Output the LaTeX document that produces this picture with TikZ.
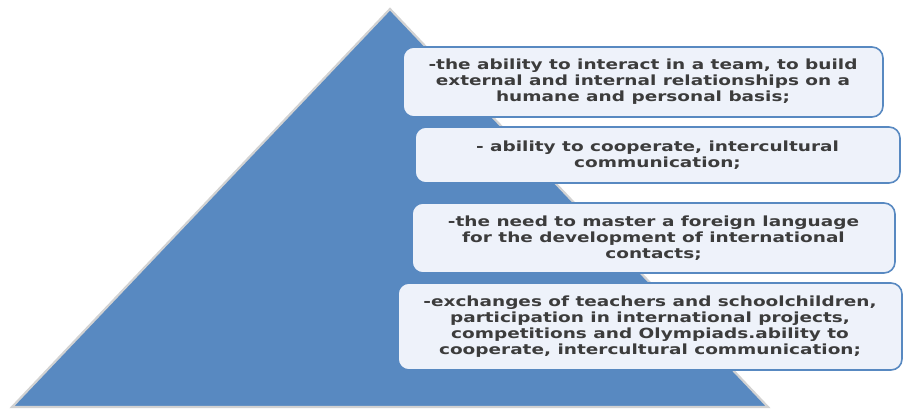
\documentclass[tikz,border=0pt]{standalone}
\usepackage{fontspec}
\setmainfont{DejaVu Sans}
\newfontfamily\boxfont[FakeStretch=1.32]{DejaVu Sans}
\definecolor{pyrblue}{RGB}{88,137,193}
\definecolor{boxfill}{RGB}{238,242,250}
\definecolor{txtgray}{RGB}{60,60,60}

\begin{document}
\begin{tikzpicture}[x=1pt, y=-1pt,
    item/.style={draw=pyrblue, line width=1.6pt, fill=boxfill, rounded corners=11pt,
        align=center, text=txtgray, inner sep=0pt,
        font=\boxfont\fontsize{14}{16}\selectfont\bfseries}]
    \useasboundingbox (0,0) rectangle (913,410);
    % the pyramid
    \coordinate (top) at (390,9);
    \coordinate (bl) at (12,407);
    \coordinate (br) at (768,407);
    \draw[gray!35, line width=2.2pt, fill=pyrblue] (top) -- (bl) -- (br) -- cycle;
    % the four levels
    \node (lvla) [item, minimum width=480pt, minimum height=70pt] at (643,82)
        {-the ability to interact in a team, to build\\external and internal relationships on a\\humane and personal basis;};
    \node (lvlb) [item, minimum width=485pt, minimum height=56pt] at (657.5,155)
        {- ability to cooperate, intercultural\\communication;};
    \node (lvlc) [item, minimum width=483pt, minimum height=70pt] at (653.5,238)
        {-the need to master a foreign language\\for the development of international\\contacts;};
    \node (lvld) [item, minimum width=504pt, minimum height=87pt] at (650,326.5)
        {-exchanges of teachers and schoolchildren,\\participation in international projects,\\competitions and Olympiads.ability to\\cooperate, intercultural communication;};
\end{tikzpicture}
\end{document}
